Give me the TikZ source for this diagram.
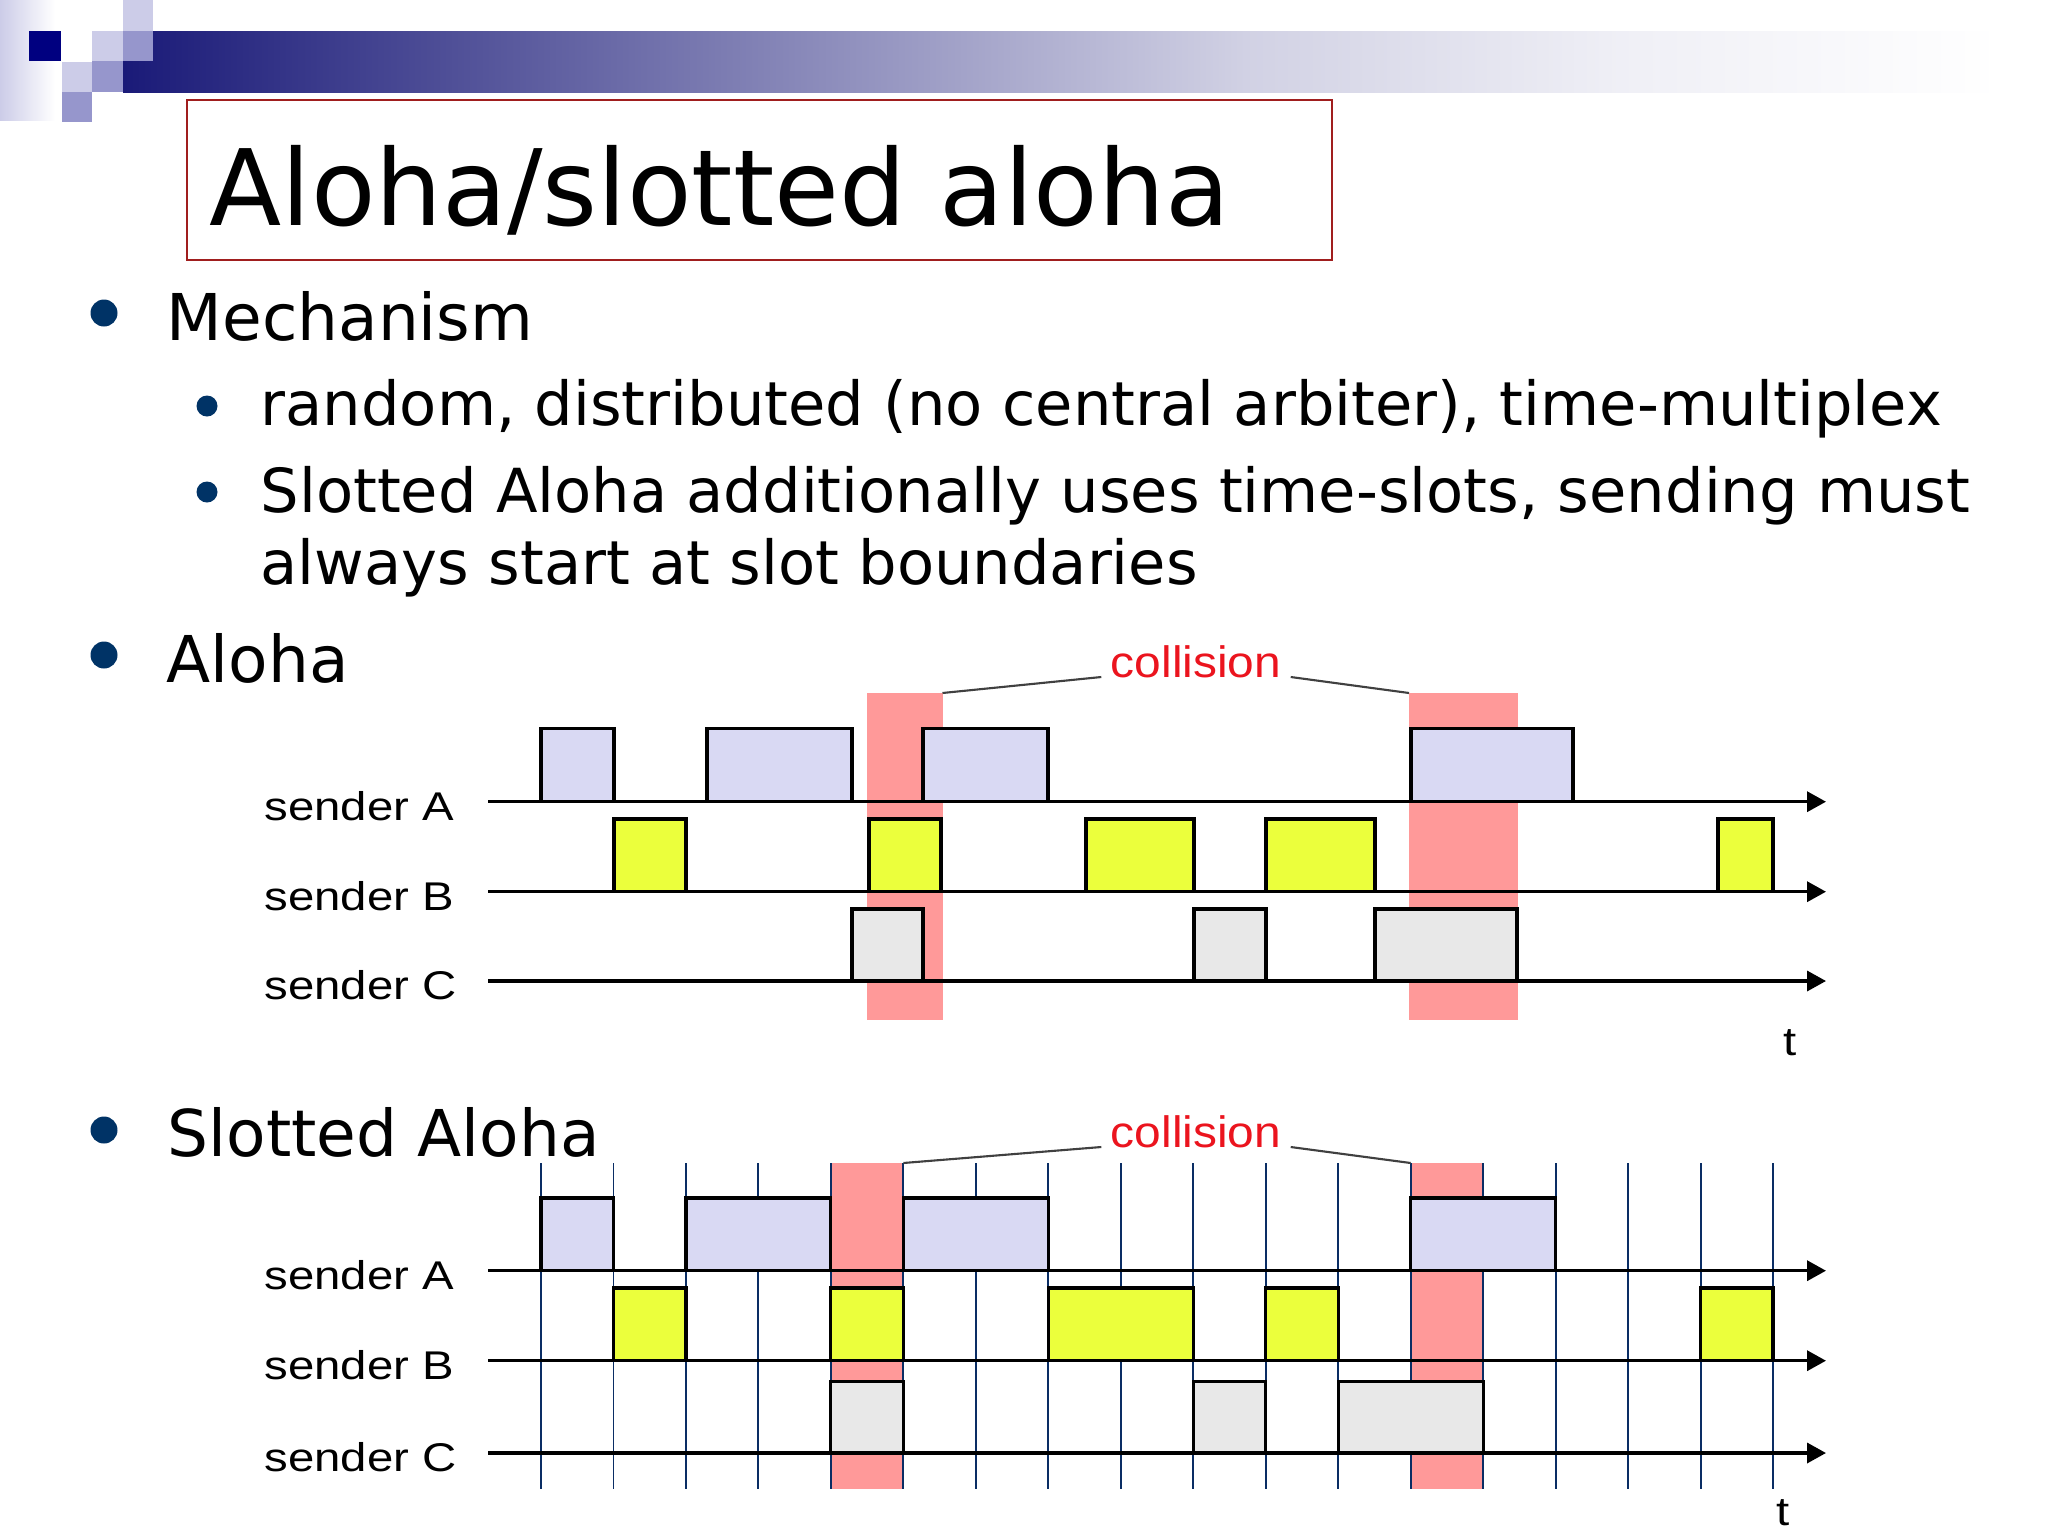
\documentclass[tikz,border=0pt]{standalone}
\usepackage{fontspec}
\setmainfont{DejaVu Sans}
\newfontfamily\arialfont{Liberation Sans}
\usetikzlibrary{arrows.meta}
\definecolor{barnavy}{RGB}{26,26,120}
\definecolor{logonavy}{RGB}{0,0,128}
\definecolor{logolight}{RGB}{204,204,232}
\definecolor{logomid}{RGB}{150,150,204}
\definecolor{bulletblue}{RGB}{0,51,102}
\definecolor{titlered}{RGB}{160,30,30}
\definecolor{pktA}{RGB}{217,217,243}
\definecolor{pktB}{RGB}{235,255,60}
\definecolor{pktC}{RGB}{232,232,232}
\definecolor{collpink}{RGB}{255,153,153}
\definecolor{slotblue}{RGB}{10,45,100}
\definecolor{colred}{RGB}{235,20,30}
\newcommand{\sendlab}[1]{\scalebox{1.18}[1]{#1}}

\begin{document}
\begin{tikzpicture}[x=0.01cm,y=-0.01cm,
  lvlone/.style={anchor=base west,inner sep=0pt,font=\fontsize{18.35pt}{22pt}\selectfont},
  lvltwo/.style={anchor=base west,inner sep=0pt,font=\fontsize{17.27pt}{21pt}\selectfont},
  sender/.style={anchor=base west,inner sep=0pt,font=\arialfont\fontsize{11.4pt}{13pt}\selectfont},
  colnote/.style={anchor=base,inner xsep=2.5pt,inner ysep=0pt,text=colred,font=\arialfont\fontsize{12.5pt}{14pt}\selectfont},
  pkt/.style={draw=black,line width=0.9pt},
  axis/.style={line width=0.95pt,-{Triangle[length=5.4pt,width=5.7pt]}},
  slot/.style={draw=slotblue,line width=0.55pt},
  hit/.style={fill=collpink},
  collink/.style={draw=black!75,line width=0.6pt}]
  \useasboundingbox (0,0) rectangle (2048,1536);
  \fill[white] (0,0) rectangle (2048,1536);
  % header bar and logo
  \shade[left color=logolight,right color=white] (0,0) rectangle (55,120);
  \shade[left color=barnavy,right color=barnavy!66] (123,31) rectangle (601,92);
  \shade[left color=barnavy!66,right color=barnavy!20] (600,31) rectangle (1247,92);
  \shade[left color=barnavy!20,right color=barnavy!7] (1246,31) rectangle (1617,92);
  \shade[left color=barnavy!7,right color=white] (1616,31) rectangle (2000,92);
  \fill[logonavy] (29,31) rectangle (61,61);
  \fill[logolight] (62,62) rectangle (92,92);
  \fill[logolight] (92,31) rectangle (123,61);
  \fill[logolight] (123,0) rectangle (153,31);
  \fill[logomid] (62,92) rectangle (92,122);
  \fill[logomid] (92,61) rectangle (123,92);
  \fill[logomid] (123,31) rectangle (153,61);
  % title
  \draw[titlered,line width=0.6pt] (187,100) rectangle (1332,260);
  \node[anchor=base west,inner sep=0pt,font=\fontsize{30pt}{36pt}\selectfont] (title) at (209,225) {Aloha/slotted aloha};
  % bullets
  \fill[bulletblue] (104,313) circle (13.5);
  \node[lvlone] (mech) at (166,340) {Mechanism};
  \fill[bulletblue] (207,406) circle (10.5);
  \node[lvltwo] (itemone) at (260,425) {random, distributed (no central arbiter), time-multiplex};
  \fill[bulletblue] (207,492) circle (10.5);
  \node[lvltwo] (itemtwo) at (260,512) {Slotted Aloha additionally uses time-slots, sending must};
  \node[lvltwo] (itemthree) at (260,584) {always start at slot boundaries};
  \fill[bulletblue] (104,655) circle (13.5);
  \node[lvlone] (aloha) at (166,682) {Aloha};
  \fill[bulletblue] (104,1130) circle (13.5);
  \node[lvlone] (saloha) at (167,1156) {Slotted Aloha};
  % pure aloha
  \fill[hit] (867,693) rectangle (942.5,1020);
  \fill[hit] (1409,693) rectangle (1518,1020);
  \foreach \a/\b in {541/614,707/852,923/1048,1411/1573}
    \draw[pkt,fill=pktA] (\a,801.7) rectangle (\b,728.3);
  \foreach \a/\b in {614/686,869/941,1086/1194,1266/1375,1718/1773}
    \draw[pkt,fill=pktB] (\a,891.7) rectangle (\b,819);
  \foreach \a/\b in {852/923,1194/1266,1375/1517}
    \draw[pkt,fill=pktC] (\a,981) rectangle (\b,909);
  \coordinate (axA0) at (488,801.7);
  \coordinate (axA1) at (1826,801.7);
  \coordinate (axB0) at (488,891.7);
  \coordinate (axB1) at (1826,891.7);
  \coordinate (axC0) at (488,981);
  \coordinate (axC1) at (1826,981);
  \draw[axis] (axA0) -- (axA1);
  \draw[axis] (axB0) -- (axB1);
  \draw[axis] (axC0) -- (axC1);
  \node[sender] (sA) at (264,820) {\sendlab{sender A}};
  \node[sender] (sB) at (264,910) {\sendlab{sender B}};
  \node[sender] (sC) at (264,999.5) {\sendlab{sender C}};
  \node[sender,anchor=base] (tA) at (1790,1055) {\sendlab{t}};
  \node[colnote] (colA) at (1196,677) {\scalebox{1.09}[1]{collision}};
  \coordinate (hitA1) at (942.5,693);
  \coordinate (hitA2) at (1409,693);
  \draw[collink] (hitA1) -- (colA.base west);
  \draw[collink] (colA.base east) -- (hitA2);
  % slotted aloha
  \fill[hit] ({541+72.47*4},1163) rectangle ({541+72.47*5},1489);
  \fill[hit] ({541+72.47*12},1163) rectangle ({541+72.47*13},1489);
  \foreach \k in {0,...,17}
    \draw[slot] ({541+72.47*\k},1163) -- ({541+72.47*\k},1489);
  \foreach \a/\b in {0/1,2/4,5/7,12/14}
    \draw[pkt,fill=pktA] ({541+72.47*\a},1270.7) rectangle ({541+72.47*\b},1198);
  \foreach \a/\b in {1/2,4/5,7/9,10/11,16/17}
    \draw[pkt,fill=pktB] ({541+72.47*\a},1360.7) rectangle ({541+72.47*\b},1288);
  \foreach \a/\b in {4/5,9/10,11/13}
    \draw[pkt,fill=pktC] ({541+72.47*\a},1453) rectangle ({541+72.47*\b},1381.7);
  \coordinate (sxA0) at (488,1270.7);
  \coordinate (sxA1) at (1826,1270.7);
  \coordinate (sxB0) at (488,1360.7);
  \coordinate (sxB1) at (1826,1360.7);
  \coordinate (sxC0) at (488,1453);
  \coordinate (sxC1) at (1826,1453);
  \draw[axis] (sxA0) -- (sxA1);
  \draw[axis] (sxB0) -- (sxB1);
  \draw[axis] (sxC0) -- (sxC1);
  \node[sender] (ssA) at (264,1289) {\sendlab{sender A}};
  \node[sender] (ssB) at (264,1379) {\sendlab{sender B}};
  \node[sender] (ssC) at (264,1471) {\sendlab{sender C}};
  \node[sender,anchor=base] (tS) at (1783,1525) {\sendlab{t}};
  \node[colnote] (colS) at (1196,1147) {\scalebox{1.09}[1]{collision}};
  \coordinate (hitS1) at ({541+72.47*5},1163);
  \coordinate (hitS2) at ({541+72.47*12},1163);
  \draw[collink] (hitS1) -- (colS.base west);
  \draw[collink] (colS.base east) -- (hitS2);
\end{tikzpicture}
\end{document}
